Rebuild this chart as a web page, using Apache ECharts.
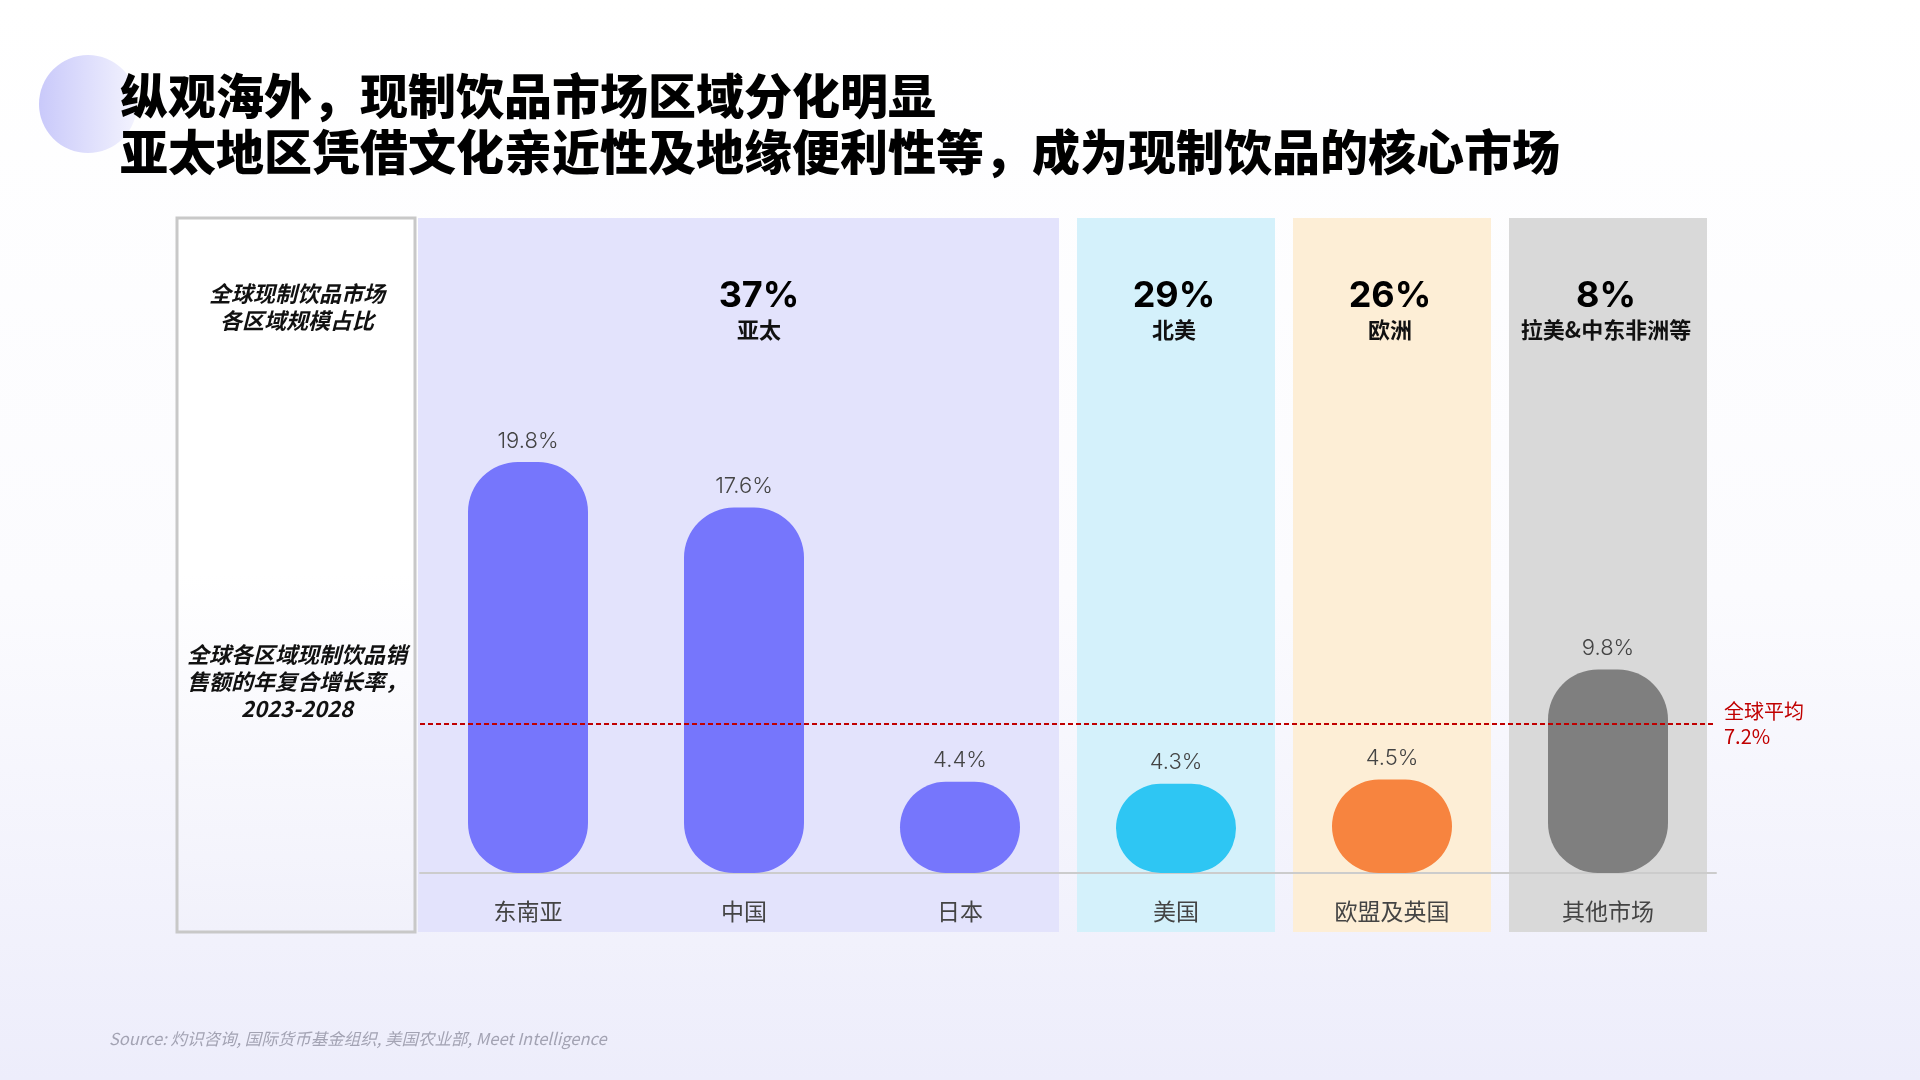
<!DOCTYPE html>
<html>
<head>
<meta charset="utf-8">
<script src="https://cdn.jsdelivr.net/npm/echarts@6/dist/echarts.min.js"></script>
<style>
    html, body { margin: 0; padding: 0; }
    #main { width: 1920px; height: 1080px; }
</style>
</head>
<body>
<div id="main"></div>
<script>
    // 数据
    var categories = ['东南亚', '中国', '日本', '美国', '欧盟及英国', '其他市场'];
    var cagrValues = [19.8, 17.6, 4.4, 4.3, 4.5, 9.8];
    var globalAvg = 7.2;

    var regionShares = ['37%', '29%', '26%', '8%'];
    var regionNames = ['亚太', '北美', '欧洲', '拉美&中东非洲等'];
    var regionSpans = [[0, 2], [3, 3], [4, 4], [5, 5]];

    var titleLines = ['纵观海外，现制饮品市场区域分化明显', '亚太地区凭借文化亲近性及地缘便利性等，成为现制饮品的核心市场'];
    var sourceText = 'Source: 灼识咨询, 国际货币基金组织, 美国农业部, Meet Intelligence';

    // 样式
    var barColors = ['#7676FC', '#7676FC', '#7676FC', '#2EC6F3', '#F7843F', '#7F7F7F'];
    var panelColors = ['#E3E3FC', '#D4F1FB', '#FDEED6', '#D9D9D9'];

    var gridLeft = 420, gridRight = 204, gridTop = 354, gridBottom = 207;
    var band = (1920 - gridLeft - gridRight) / categories.length;
    var panelTop = 218, panelBottom = 932;

    var myChart = echarts.init(document.getElementById('main'));

    var graphics = [];

    // 标题
    graphics.push({
        type: 'circle', z: -10,
        shape: { cx: 88, cy: 104, r: 49 },
        style: {
            fill: new echarts.graphic.LinearGradient(0, 0, 1, 0, [
                { offset: 0, color: '#C9C9FA' },
                { offset: 1, color: '#F3F3FE' }
            ])
        }
    });
    titleLines.forEach(function (t, i) {
        graphics.push({
            type: 'text', left: 120, top: 72 + i * 56, z: 10,
            style: {
                text: t, fill: '#000',
                font: '900 48px "Noto Sans CJK SC"'
            }
        });
    });

    // 左侧说明框
    graphics.push({
        type: 'rect', z: -10,
        shape: { x: 177, y: panelTop, width: 238, height: panelBottom - panelTop },
        style: {
            fill: new echarts.graphic.LinearGradient(0, 0, 0, 1, [
                { offset: 0, color: '#FFFFFF' },
                { offset: 0.5, color: '#FFFFFF' },
                { offset: 1, color: '#F1F1FB' }
            ]),
            stroke: '#C8C8C8', lineWidth: 3
        }
    });
    graphics.push({
        type: 'text', z: 10,
        style: {
            x: 297, y: 307, text: '全球现制饮品市场\n各区域规模占比',
            align: 'center', verticalAlign: 'middle', lineHeight: 27,
            font: 'italic 600 22px "Noto Sans CJK SC"', fill: '#111'
        }
    });
    graphics.push({
        type: 'text', z: 10,
        style: {
            x: 297, y: 682, text: '全球各区域现制饮品销\n售额的年复合增长率，\n2023-2028',
            align: 'center', verticalAlign: 'middle', lineHeight: 27,
            font: 'italic 600 22px "Noto Sans CJK SC"', fill: '#111'
        }
    });

    // 区域背景和占比
    regionSpans.forEach(function (s, i) {
        var x0 = gridLeft + s[0] * band + (i === 0 ? -2 : 9);
        var x1 = gridLeft + (s[1] + 1) * band - 9;
        graphics.push({
            type: 'rect', z: -10,
            shape: { x: x0, y: panelTop, width: x1 - x0, height: panelBottom - panelTop },
            style: { fill: panelColors[i] }
        });
        var cx = gridLeft + (s[0] + s[1] + 1) / 2 * band + (i === 0 ? 15 : -2);
        graphics.push({
            type: 'text', z: 10,
            style: {
                x: cx, y: 296, text: regionShares[i], align: 'center', verticalAlign: 'middle',
                font: 'bold 36px "Inter", "Noto Sans"', fill: '#000'
            }
        });
        graphics.push({
            type: 'text', z: 10,
            style: {
                x: cx, y: 330, text: regionNames[i], align: 'center', verticalAlign: 'middle',
                font: '600 22px "Noto Sans CJK SC"', fill: '#111'
            }
        });
    });

    graphics.push({
        type: 'text', left: 109, top: 1030, z: 10,
        style: { text: sourceText, font: 'italic 16.5px "Noto Sans CJK SC"', fill: '#A3A3B3' }
    });

    var option = {
        backgroundColor: {
            type: 'linear', x: 0, y: 0, x2: 0, y2: 1,
            colorStops: [
                { offset: 0, color: '#FFFFFF' },
                { offset: 0.55, color: '#FBFBFE' },
                { offset: 1, color: '#EDEDFB' }
            ]
        },
        animation: false,
        grid: { left: gridLeft, right: gridRight, top: gridTop, bottom: gridBottom },
        xAxis: {
            type: 'category',
            data: categories,
            axisTick: { show: false },
            axisLine: { lineStyle: { color: '#CCCCCC', width: 2 } },
            axisLabel: {
                margin: 27, fontSize: 23, color: '#444',
                fontFamily: '"Noto Sans CJK SC"'
            }
        },
        yAxis: {
            type: 'value', min: 0, max: 25,
            show: false, splitLine: { show: false }
        },
        graphic: graphics,
        series: [{
            type: 'bar',
            data: cagrValues.map(function (v, i) {
                return { value: v, itemStyle: { color: barColors[i] } };
            }),
            barWidth: 120,
            itemStyle: { borderRadius: 50 },
            label: {
                show: true, position: 'top', distance: 10,
                formatter: '{c}%', fontSize: 22, color: '#444',
                fontFamily: 'Inter', fontWeight: 300
            },
            markLine: {
                silent: true,
                symbol: 'none',
                data: [{ yAxis: globalAvg }],
                lineStyle: { color: '#C00000', type: [5, 3], width: 2 },
                label: {
                    position: 'end', distance: 8, align: 'left',
                    formatter: '全球平均\n' + globalAvg + '%',
                    color: '#C00000', fontSize: 20, lineHeight: 25,
                    fontFamily: '"Noto Sans CJK SC"'
                }
            }
        }]
    };

    myChart.setOption(option);
</script>
</body>
</html>
